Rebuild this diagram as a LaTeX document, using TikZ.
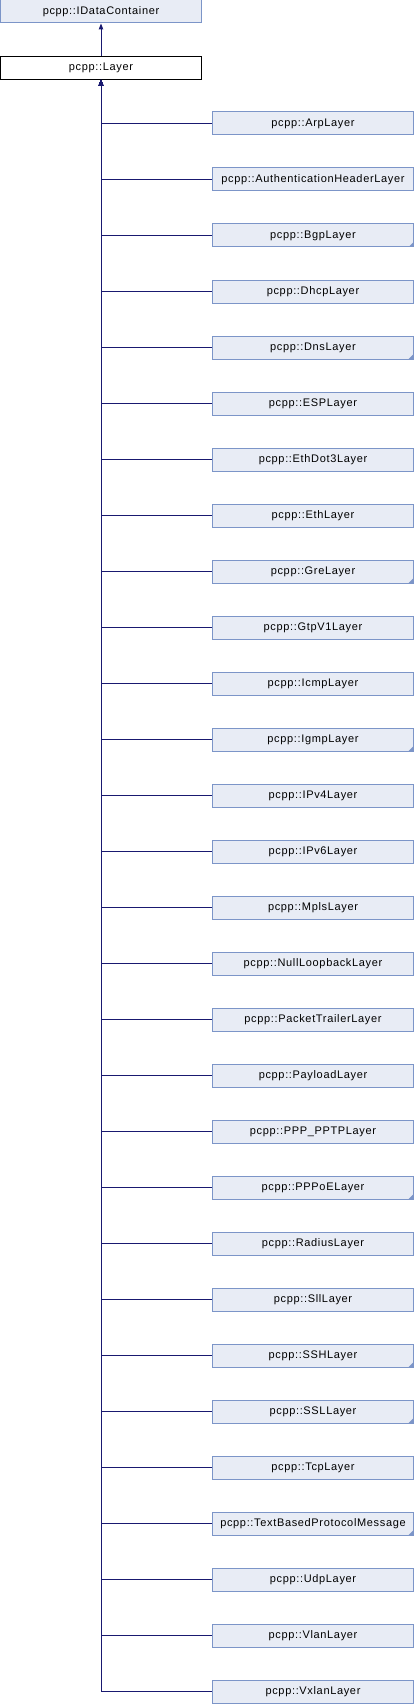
\documentclass[tikz,border=0pt]{standalone}
\usepackage{fontspec}
\setmainfont{Liberation Sans}[LetterSpace=6]
\usetikzlibrary{arrows.meta}
\definecolor{boxfill}{HTML}{E8ECF5}
\definecolor{boxdraw}{HTML}{7C95C8}
\definecolor{edgecol}{HTML}{191970}
\tikzset{
  cls/.style={draw=boxdraw, fill=boxfill, line width=1pt, minimum width=201pt, minimum height=23pt, inner sep=0pt, font=\fontsize{11}{13}\selectfont, text=black},
  cur/.style={cls, draw=black, fill=white},
  edge/.style={draw=edgecol, line width=1pt, {Triangle[width=4.5pt,length=6pt]}-},
  foldmark/.style={fill=boxdraw},
}
\newcommand{\foldcorner}[1]{\fill[foldmark] ([xshift=-0.5pt,yshift=0.5pt]#1.south east) -- ++(-5,0) -- ++(5,-5) -- cycle;}
\begin{document}
\begin{tikzpicture}[x=1pt,y=-1pt]
\useasboundingbox (0,0) rectangle (414,1704);
\node[cls] (idc) at (101,11.5) {pcpp::IDataContainer};
\node[cur] (layer) at (101,67.75) {pcpp::Layer};
\draw[edge] (idc.south) -- (layer.north);
\foreach \name [count=\i from 0] in {ArpLayer,AuthenticationHeaderLayer,BgpLayer,DhcpLayer,DnsLayer,ESPLayer,EthDot3Layer,EthLayer,GreLayer,GtpV1Layer,IcmpLayer,IgmpLayer,IPv4Layer,IPv6Layer,MplsLayer,NullLoopbackLayer,PacketTrailerLayer,PayloadLayer,PPP\_PPTPLayer,PPPoELayer,RadiusLayer,SllLayer,SSHLayer,SSLLayer,TcpLayer,TextBasedProtocolMessage,UdpLayer,VlanLayer,VxlanLayer} {
  \node[cls] (c\i) at (313,123.5+56*\i) {pcpp::\name};
  \draw[edge] (layer.south) |- (c\i.west);
}
\foreach \i in {2,4,8,11,19,22,23,25} {\foldcorner{c\i}}
\end{tikzpicture}
\end{document}
